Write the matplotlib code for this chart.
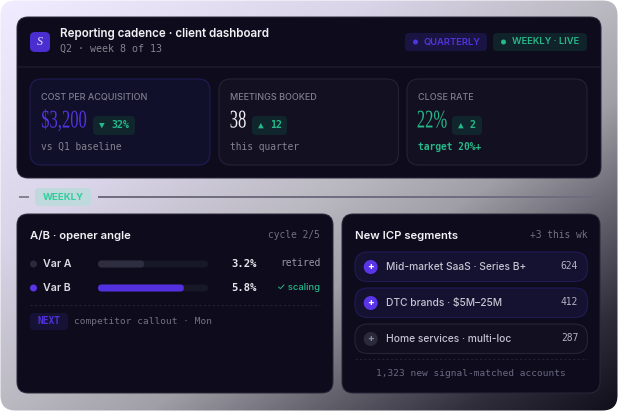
import matplotlib
matplotlib.use("Agg")
import numpy as np
import matplotlib.pyplot as plt
from matplotlib.colors import LinearSegmentedColormap
from matplotlib.patches import FancyBboxPatch, Circle
from matplotlib.patheffects import AbstractPathEffect
from matplotlib.transforms import Affine2D

W, H = 618, 411

title = "Reporting cadence · client dashboard"
subtitle = "Q2 · week 8 of 13"
pill_labels = ["QUARTERLY", "WEEKLY · LIVE"]

kpi_labels = ["COST PER ACQUISITION", "MEETINGS BOOKED", "CLOSE RATE"]
kpi_values = ["$3,200", "38", "22%"]
kpi_arrows = ["▼", "▲", "▲"]
kpi_deltas = ["32%", "12", "2"]
kpi_notes = ["vs Q1 baseline", "this quarter", "target 20%+"]

variant_names = ["Var A", "Var B"]
variant_rates = [3.2, 5.8]
variant_fill = [42, 78]
variant_status = ["retired", "✓ scaling"]

segment_names = ["Mid-market SaaS · Series B+", "DTC brands · $5M–25M", "Home services · multi-loc"]
segment_counts = [624, 412, 287]

PANEL = "#0e0c1c"
PANEL_EDGE = "#2a2838"
GREEN = "#25b888"
PURPLE = "#5a35e8"
MUTED = "#85838f"
SANS = "Inter"
MONO = "DejaVu Sans Mono"
SERIF = "Liberation Serif"


class NarrowX(AbstractPathEffect):
    # squeeze glyphs horizontally around their centre, the serif has no condensed cut
    def __init__(self, sx):
        super().__init__()
        self.sx = sx

    def draw_path(self, renderer, gc, tpath, affine, rgbFace=None):
        ext = tpath.get_extents(affine)
        cx = (ext.x0 + ext.x1) / 2
        a = affine + Affine2D().translate(-cx, 0).scale(self.sx, 1).translate(cx, 0)
        renderer.draw_path(gc, tpath, a, rgbFace)


def box(ax, x0, y0, x1, y1, r, face, edge="none", lw=0.0, z=2):
    p = FancyBboxPatch((x0, y0), x1 - x0, y1 - y0, boxstyle="round,pad=0,rounding_size=%s" % r,
                       fc=face, ec=edge, lw=lw, zorder=z)
    ax.add_patch(p)
    return p


def label(ax, x, y, s, px, color, family=SANS, weight="normal", ha="left", **kw):
    return ax.text(x, y, s, fontsize=px * 0.72, color=color, family=family, weight=weight,
                   ha=ha, va="center", zorder=6, **kw)


fig = plt.figure(figsize=(W / 100, H / 100), dpi=100, facecolor="white")
ax = fig.add_axes([0, 0, 1, 1])
ax.set_xlim(0, W)
ax.set_ylim(H, 0)
ax.axis("off")

# outer card gradient
u, v = np.meshgrid(np.linspace(0, 1, W), np.linspace(0, 1, H))
cmap = LinearSegmentedColormap.from_list("bg", [(0, "#f1ecff"), (0.3, "#d9d4e8"), (0.5, "#bab8c0"),
                                                (0.62, "#a09ea6"), (0.75, "#65636e"),
                                                (0.88, "#2f2d3a"), (1, "#100e1c")])
img = ax.imshow((u + v) / 2, cmap=cmap, vmin=0, vmax=1, extent=(0, W, H, 0), aspect="auto", zorder=1)
outer = box(ax, 0.5, 0.5, W - 0.5, H - 0.5, 15, "none", z=1)
img.set_clip_path(outer)
ax.set_xlim(0, W)
ax.set_ylim(H, 0)

# top panel
box(ax, 17, 17, 601, 178, 11, PANEL, PANEL_EDGE, 0.7)
ax.plot([17.5, 600.5], [67, 67], color="#1c1a2e", lw=1.2, zorder=3, solid_capstyle="butt")
box(ax, 30, 32, 50, 52, 5, "#4a2ed0", z=3)
label(ax, 40, 42, "S", 12, "#e8e4ff", SERIF, ha="center", style="italic")
label(ax, 60, 34, title, 11.6, "#f1f1f5", weight="semibold")
label(ax, 60, 49, subtitle, 10, MUTED, MONO)

pill_x = [(405, 487), (493, 587)]
pill_face = ["#191442", "#10232b"]
pill_color = ["#5333e0", GREEN]
for (x0, x1), lab, f, c in zip(pill_x, pill_labels, pill_face, pill_color):
    box(ax, x0, 33, x1, 51, 4, f, z=3)
    ax.add_patch(Circle((x0 + 10.5, 42), 2.5, fc=c, ec="none", zorder=5))
    label(ax, x0 + 19, 41.8, lab, 9.4, c, weight="semibold")

# kpi cards
card_x = [(30, 210), (219, 398.5), (407, 587)]
card_face = ["#10102a", "#121021", "#121021"]
card_edge = ["#211b56", "#242236", "#242236"]
value_color = ["#5433e0", "#eeeef2", GREEN]
value_w = [46, 16, 28]
badge_w = [42, 35, 30]
note_color = [MUTED, MUTED, GREEN]
for i, (x0, x1) in enumerate(card_x):
    box(ax, x0, 79, x1, 165, 12, card_face[i], card_edge[i], 0.8, z=3)
    tx = x0 + 11
    label(ax, tx, 97.3, kpi_labels[i], 9.0, "#7f7e90", weight="medium")
    t = label(ax, tx + value_w[i] / 2, 121.5, kpi_values[i], 25.5, value_color[i], SERIF, ha="center")
    t.set_path_effects([NarrowX(0.65)])
    bx = tx + value_w[i] + 6
    box(ax, bx, 116, bx + badge_w[i], 135, 4, "#10252c", z=4)
    label(ax, bx + 9, 125.5, kpi_arrows[i], 9.5, GREEN, MONO, ha="center")
    label(ax, bx + 18, 125, kpi_deltas[i], 10, GREEN, MONO, "bold")
    label(ax, tx, 147, kpi_notes[i], 9.6, note_color[i], MONO, "bold" if i == 2 else "normal")

# weekly divider
ax.plot([19, 29], [197, 197], color="#85828f", lw=1.4, zorder=3, solid_capstyle="butt")
ax.plot([98, 598], [197, 197], color="#6f6c7e", lw=1.4, zorder=3, solid_capstyle="butt")
box(ax, 35, 188, 91, 206, 4, "#c0d9dc", z=3)
label(ax, 63, 197, "WEEKLY", 9.6, "#2fcf9c", weight="bold", ha="center")

# A/B panel
box(ax, 17, 214, 333, 393, 11, PANEL, PANEL_EDGE, 0.7)
label(ax, 30, 236, "A/B · opener angle", 11.3, "#f1f1f5", weight="semibold")
label(ax, 320, 235, "cycle 2/5", 9.6, "#73717f", MONO, ha="right")
track_x, track_w = 98, 110
for i, name in enumerate(variant_names):
    y = 264 + 24 * i
    c = "#2b2a3c" if i == 0 else PURPLE
    ax.add_patch(Circle((33.5, y), 3.5, fc=c, ec="none", zorder=5))
    label(ax, 43, y, name, 10.6, "#dcdce4", weight="semibold")
    box(ax, track_x, y - 3.5, track_x + track_w, y + 3.5, 3.5, "#181727", z=3)
    box(ax, track_x, y - 3.5, track_x + track_w * variant_fill[i] / 100, y + 3.5, 3.5,
        "#2f2d40" if i == 0 else "#5230e0", z=4)
    label(ax, 257, y, "%.1f%%" % variant_rates[i], 10.5, "#e4e4ea", MONO, "bold", ha="right")
    label(ax, 320, y - 1, variant_status[i], 9.6 if i == 0 else 9.4,
          "#9a98a6" if i == 0 else GREEN, MONO if i == 0 else ["Inter", "DejaVu Sans"],
          "normal" if i == 0 else "medium", ha="right")
ax.plot([30, 320], [305, 305], color="#232134", lw=0.8, ls=(0, (2, 2)), zorder=3)
box(ax, 30, 313, 68, 330, 4, "#161236", z=3)
label(ax, 49, 321, "NEXT", 9.6, "#4f30d9", MONO, "bold", ha="center")
label(ax, 74, 321.5, "competitor callout · Mon", 9.5, "#73717f", MONO)

# ICP panel
box(ax, 342, 214, 600, 393, 11, PANEL, PANEL_EDGE, 0.7)
label(ax, 355, 236, "New ICP segments", 11.3, "#f1f1f5", weight="semibold")
label(ax, 588, 235, "+3 this wk", 9.6, "#73717f", MONO, ha="right")
for i, name in enumerate(segment_names):
    y0 = 252 + 36 * i
    hot = i < 2
    box(ax, 355, y0, 587.5, y0 + 29.5, 13, "#141131" if hot else "#110f20",
        "#211b55" if hot else "#262436", 0.8, z=3)
    ax.add_patch(Circle((370.7, y0 + 15), 7, fc=PURPLE if hot else "#2b2a3c", ec="none", zorder=5))
    label(ax, 370.7, y0 + 14.6, "+", 10, "white" if hot else "#8a8898", SANS, "bold", ha="center")
    label(ax, 385.7, y0 + 15, name, 10.2, "#c5c4d0", weight="medium")
    label(ax, 578, y0 + 14, str(segment_counts[i]), 9.6, "#b5b4c0", MONO, "normal", ha="right")
ax.plot([355, 587], [359, 359], color="#232134", lw=0.8, ls=(0, (2, 2)), zorder=3)
label(ax, 471, 373.5, "1,323 new signal-matched accounts", 9.5, "#6a6880", MONO, ha="center")

fig.savefig("out.png", dpi=100, facecolor="white")
